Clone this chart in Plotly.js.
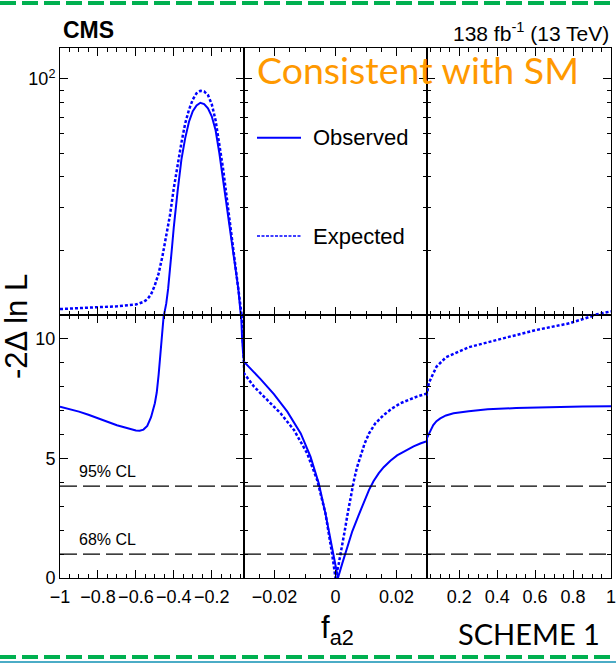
<!DOCTYPE html>
<html><head><meta charset="utf-8">
<script src="https://cdn.plot.ly/plotly-3.0.1.min.js"></script>
<style>html,body{margin:0;padding:0;background:#fff;}#chart{width:616px;height:663px;}</style>
</head><body><div id="chart"></div>
<script>
// ---- data ----
const obsX = [-1, -0.95, -0.9, -0.85, -0.8, -0.75, -0.7, -0.65, -0.62, -0.6, -0.58, -0.56, -0.54, -0.52, -0.5, -0.49, -0.48, -0.47, -0.46, -0.45, -0.44, -0.43, -0.42, -0.41, -0.4, -0.39, -0.38, -0.36, -0.34, -0.32, -0.3, -0.28, -0.26, -0.24, -0.22, -0.2, -0.18, -0.16, -0.14, -0.12, -0.1, -0.08, -0.06, -0.05, -0.045, -0.04, -0.035, -0.03,
  -0.0245, -0.0202, -0.0158, -0.0114, -0.0082, -0.0055, -0.0033, -0.0016, -0.0002, 0.0008, 0.0022, 0.0038, 0.0055, 0.0075, 0.0093, 0.011, 0.0125, 0.0142, 0.0158, 0.018, 0.0202, 0.023, 0.0256, 0.028, 0.03,
  0.0305, 0.037, 0.05, 0.063, 0.08, 0.1, 0.13, 0.17, 0.25, 0.35, 0.5, 0.7, 0.85, 1.0];
const obsY = [7.16, 7.06, 6.95, 6.82, 6.69, 6.53, 6.38, 6.26, 6.2, 6.16, 6.15, 6.2, 6.35, 6.72, 7.3, 7.75, 8.5, 9.3, 10.05, 10.8, 12.2, 14.0, 16.5, 20.5, 25.0, 30.0, 35.0, 47.0, 57.5, 67.0, 74.0, 78.0, 80.0, 79.0, 76.0, 70.5, 62.0, 50.0, 38.5, 30.0, 23.3, 17.8, 14.0, 11.6, 10.8, 10.0, 9.4, 9.03,
  8.30, 7.68, 6.95, 6.04, 5.07, 3.96, 2.70, 1.59, 0.61, 0.0, 0.6, 1.3, 1.95, 2.6, 3.15, 3.68, 4.05, 4.38, 4.63, 4.9, 5.12, 5.33, 5.5, 5.63, 5.72,
  5.85, 5.97, 6.22, 6.39, 6.55, 6.67, 6.79, 6.88, 6.97, 7.05, 7.1, 7.15, 7.17, 7.18];

const expX = [-1, -0.9, -0.8, -0.7, -0.6, -0.56, -0.54, -0.52, -0.5, -0.48, -0.46, -0.44, -0.42, -0.4, -0.38, -0.36, -0.34, -0.32, -0.3, -0.28, -0.26, -0.24, -0.22, -0.2, -0.18, -0.16, -0.14, -0.12, -0.1, -0.08, -0.06, -0.05, -0.044, -0.04, -0.035, -0.032, -0.03,
  -0.0267, -0.0223, -0.018, -0.0136, -0.0093, -0.006, -0.0033, -0.0011, -0.0005, 0.0, 0.001, 0.002, 0.003, 0.004, 0.005, 0.006, 0.007, 0.0082, 0.0095, 0.011, 0.013, 0.0158, 0.0185, 0.0213, 0.024, 0.0267, 0.03,
  0.0305, 0.04, 0.055, 0.08, 0.13, 0.25, 0.43, 0.6, 0.78, 0.9, 1.0];
const expY = [11.6, 11.7, 11.8, 11.9, 12.1, 12.4, 12.7, 13.3, 14.5, 16.2, 19.0, 23.0, 28.0, 36.0, 45.0, 55.0, 66.0, 75.0, 82.5, 87.5, 89.5, 89.0, 86.0, 79.0, 68.0, 55.0, 43.0, 32.5, 24.5, 19.5, 14.5, 12.5, 11.2, 10.3, 9.5, 8.9, 8.55,
  7.99, 7.44, 6.88, 6.18, 5.21, 4.09, 2.70, 1.0, 0.45, 0.0, 0.55, 1.2, 1.95, 2.7, 3.4, 4.05, 4.6, 5.1, 5.6, 6.04, 6.45, 6.81, 7.08, 7.30, 7.45, 7.58, 7.71,
  7.85, 8.15, 8.41, 8.83, 9.22, 9.64, 10.01, 10.35, 10.64, 10.94, 11.35];

const clLevels = [3.84, 1.0];
const clLabels = ['95% CL', '68% CL'];
const seriesNames = ['Observed', 'Expected'];
const logTickVals = [100];
const logTickText = ['10<sup>2</sup>'];
const logMinorVals = [20, 30, 40, 50, 60, 70, 80, 90];

// ---- geometry ----
const W = 616, H = 663, mL = 60, mR = 5, mT = 48, mB = 85;
const pw = W - mL - mR, ph = H - mT - mB;
const px2x = p => (p - mL) / pw;
const py2y = p => (H - mB - p) / ph;
const colDomains = [[0, px2x(244)], [px2x(244), px2x(427)], [px2x(427), 1]];
const rowDomains = [[0, py2y(314.7)], [py2y(314.7), 1]];
const colCfg = [
  {range: [-1, -0.03], tick0: -1, dtick: 0.2, minor: 0.05},
  {range: [-0.03, 0.03], tick0: 0, dtick: 0.02, minor: 0.005},
  {range: [0.03, 1], tick0: 0, dtick: 0.2, minor: 0.05}
];
const FONT = 'Arial, "Liberation Sans", sans-serif';
const BLUE = '#0000ff';

const base = {
  showline: true, linecolor: '#000', linewidth: 1, mirror: 'ticks',
  ticks: 'inside', ticklen: 8, tickwidth: 1, tickcolor: '#000',
  showgrid: false, zeroline: false, fixedrange: true, tickangle: 0,
  ticklabeloverflow: 'allow',
  tickfont: {family: FONT, size: 18, color: '#000'}
};

const layout = {
  width: W, height: H,
  margin: {l: mL, r: mR, t: mT, b: mB},
  paper_bgcolor: '#fff', plot_bgcolor: '#fff',
  showlegend: false, hovermode: false,
  font: {family: FONT, color: '#000'},
  shapes: [], annotations: []
};
const data = [];

for (let i = 0; i < 6; i++) {
  const col = i % 3, row = i < 3 ? 0 : 1;
  const sfx = i === 0 ? '' : String(i + 1);
  const c = colCfg[col];
  layout['xaxis' + sfx] = Object.assign({}, base, {
    domain: colDomains[col], anchor: 'y' + sfx, range: c.range,
    tickmode: 'linear', tick0: c.tick0, dtick: c.dtick,
    minor: {dtick: c.minor, tick0: c.tick0, ticks: 'inside', ticklen: 4, tickcolor: '#000'},
    showticklabels: row === 0, ticklabelstandoff: 2
  });
  if (row === 0) {
    layout['yaxis' + sfx] = Object.assign({}, base, {
      domain: rowDomains[0], anchor: 'x' + sfx, range: [0, 11],
      tickmode: 'linear', tick0: 0, dtick: 5,
      minor: {dtick: 1, tick0: 0, ticks: 'inside', ticklen: 4, tickcolor: '#000'},
      showticklabels: col === 0
    });
  } else {
    layout['yaxis' + sfx] = Object.assign({}, base, {
      domain: rowDomains[1], anchor: 'x' + sfx, type: 'log',
      range: [Math.log10(11), 2.126],
      tickmode: 'array', tickvals: logTickVals, ticktext: logTickText,
      minor: {tickmode: 'array', tickvals: logMinorVals, ticks: 'inside', ticklen: 4, tickcolor: '#000'},
      showticklabels: col === 0
    });
  }
  data.push({
    type: 'scatter', mode: 'lines', name: seriesNames[0], x: obsX, y: obsY,
    xaxis: 'x' + sfx, yaxis: 'y' + sfx,
    line: {color: BLUE, width: 2}
  });
  data.push({
    type: 'scatter', mode: 'lines', name: seriesNames[1], x: expX, y: expY,
    xaxis: 'x' + sfx, yaxis: 'y' + sfx,
    line: {color: BLUE, width: 2.5, dash: '3px,2px'}
  });
}

// CL reference lines
clLevels.forEach((lv, k) => {
  layout.shapes.push({type: 'line', xref: 'paper', yref: 'y', x0: 0, x1: 1, y0: lv, y1: lv,
    line: {color: '#000', width: 1.3, dash: '17px,6px'}});
  layout.annotations.push({xref: 'paper', yref: 'y', x: px2x(77), y: lv + 0.6, xanchor: 'left', yanchor: 'middle',
    text: clLabels[k], showarrow: false, font: {family: FONT, size: 16, color: '#000'}});
});

// legend (drawn by hand to match the reference spacing)
const legY = [py2y(137.7), py2y(236)];
const legDash = ['solid', '3px,1.5px'];
seriesNames.forEach((nm, k) => {
  layout.shapes.push({type: 'line', xref: 'paper', yref: 'paper', x0: px2x(257), x1: px2x(301), y0: legY[k], y1: legY[k],
    line: {color: BLUE, width: k === 0 ? 2 : 1.6, dash: legDash[k]}});
  layout.annotations.push({xref: 'paper', yref: 'paper', x: px2x(311), y: legY[k], xanchor: 'left', yanchor: 'middle',
    text: nm, showarrow: false, font: {family: FONT, size: 22, color: '#000'}});
});

// titles and labels
layout.annotations.push(
  {xref: 'paper', yref: 'paper', x: px2x(61), y: py2y(30), xanchor: 'left', yanchor: 'middle',
   text: '<b>CMS</b>', showarrow: false, font: {family: FONT, size: 23, color: '#000'}},
  {xref: 'paper', yref: 'paper', x: 1, y: py2y(32), xanchor: 'right', yanchor: 'middle',
   text: '138 fb<sup>-1</sup> (13 TeV)', showarrow: false, font: {family: FONT, size: 21, color: '#000'}},
  {xref: 'paper', yref: 'paper', x: px2x(418), y: py2y(69), xanchor: 'center', yanchor: 'middle',
   text: 'Consistent with SM', showarrow: false, font: {family: 'Lato, "Open Sans", sans-serif', size: 37.5, color: '#ff9900'}},
  {xref: 'paper', yref: 'paper', x: px2x(16), y: py2y(327), xanchor: 'center', yanchor: 'middle', textangle: -90,
   text: '-2\u0394 ln L', showarrow: false, font: {family: FONT, size: 31, color: '#000'}},
  {xref: 'paper', yref: 'paper', x: px2x(337), y: py2y(630), xanchor: 'center', yanchor: 'middle',
   text: 'f<sub>a2</sub>', showarrow: false, font: {family: FONT, size: 31, color: '#000'}},
  {xref: 'paper', yref: 'paper', x: px2x(529), y: py2y(633), xanchor: 'center', yanchor: 'middle',
   text: 'SCHEME 1', showarrow: false, font: {family: 'Lato, "Open Sans", sans-serif', size: 29, color: '#000'}}
);

// slide decoration: dashed green borders
[3, 657].forEach(p => {
  layout.shapes.push({type: 'line', xref: 'paper', yref: 'paper', x0: px2x(0), x1: px2x(616), y0: py2y(p), y1: py2y(p),
    line: {color: '#00b050', width: 4, dash: '16px,6px'}});
});
layout.shapes.push({type: 'line', xref: 'paper', yref: 'paper', x0: px2x(0), x1: px2x(616), y0: py2y(662), y1: py2y(662),
  line: {color: '#4bacc6', width: 2}});

Plotly.newPlot('chart', data, layout, {displayModeBar: false, staticPlot: true});
</script>
</body></html>
